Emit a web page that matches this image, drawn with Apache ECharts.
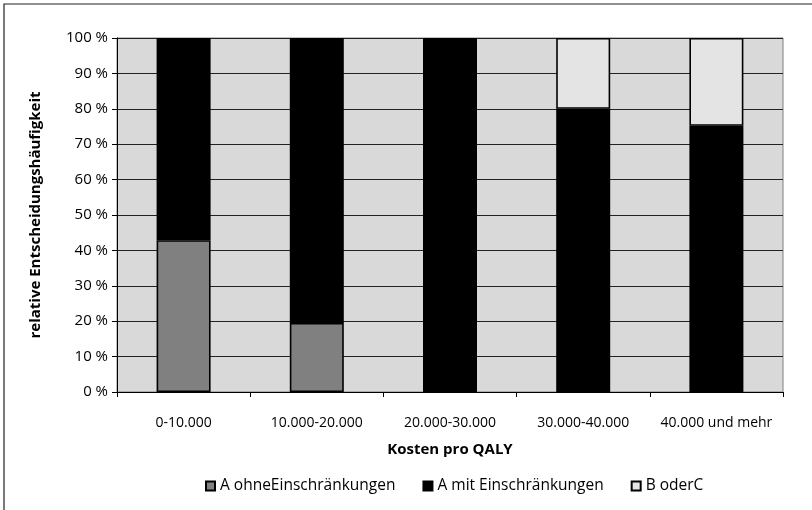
<!DOCTYPE html>
<html>
<head>
<meta charset="utf-8">
<script src="https://cdn.jsdelivr.net/npm/echarts@6/dist/echarts.min.js"></script>
<style>
  html, body { margin: 0; padding: 0; background: #fff; }
  #chart { width: 812px; height: 510px; }
</style>
</head>
<body>
<div id="chart"></div>
<script>
// Kosten pro QALY -> relative Entscheidungshäufigkeit (%)
var categories = ['0-10.000', '10.000-20.000', '20.000-30.000', '30.000-40.000', '40.000 und mehr'];
var seriesNames = ['A ohneEinschränkungen', 'A mit Einschränkungen', 'B oderC'];
var ohneValues = [42.9, 19.5, null, null, null];
var mitValues = [57.1, 80.5, 100, 80, 75.2];
var bcValues = [null, null, null, 20, 24.8];
var yTicks = [0, 10, 20, 30, 40, 50, 60, 70, 80, 90, 100];

var FONT = 'Open Sans';
var chart = echarts.init(document.getElementById('chart'));

function barSeries(name, data, color) {
    return {
        name: name,
        type: 'bar',
        stack: 'total',
        data: data,
        barWidth: 54,
        itemStyle: { color: color, borderColor: '#000', borderWidth: 1.6 },
        emphasis: { disabled: true }
    };
}

chart.setOption({
    backgroundColor: '#fff',
    animation: false,
    textStyle: { fontFamily: FONT },
    graphic: [{
        type: 'rect',
        shape: { x: 4, y: 4, width: 1000, height: 1000 },
        style: { fill: 'none', stroke: '#222', lineWidth: 1.2 },
        silent: true
    }],
    grid: {
        left: 117, top: 38, width: 666, height: 354,
        show: true, backgroundColor: '#d9d9d9', borderColor: '#808080', borderWidth: 1
    },
    legend: {
        left: 200, top: 473,
        icon: 'rect', itemWidth: 9, itemHeight: 9, itemGap: 27,
        textStyle: { fontFamily: FONT, fontSize: 15.5, color: '#000' },
        data: seriesNames
    },
    xAxis: {
        type: 'category',
        data: categories,
        name: 'Kosten pro QALY',
        nameLocation: 'middle',
        nameGap: 50,
        nameTextStyle: { fontFamily: FONT, fontSize: 15, fontWeight: 'bold', color: '#000' },
        axisLine: { lineStyle: { color: '#000', width: 1 } },
        axisTick: { show: true, length: 5, alignWithLabel: false, lineStyle: { color: '#000' } },
        axisLabel: { margin: 24, fontFamily: FONT, fontSize: 14, color: '#000', interval: 0 },
        splitLine: { show: false }
    },
    yAxis: {
        type: 'value',
        min: yTicks[0], max: yTicks[yTicks.length - 1], interval: 10,
        name: 'relative Entscheidungshäufigkeit',
        nameLocation: 'middle',
        nameGap: 74,
        nameRotate: 90,
        nameTextStyle: { fontFamily: FONT, fontSize: 15, fontWeight: 'bold', color: '#000' },
        axisLine: { show: true, lineStyle: { color: '#000', width: 1 } },
        axisTick: { show: true, length: 5, lineStyle: { color: '#000' } },
        axisLabel: { margin: 9, fontFamily: FONT, fontSize: 15, color: '#000', formatter: '{value} %' },
        splitLine: { show: true, lineStyle: { color: '#222', width: 1 } }
    },
    series: [
        barSeries(seriesNames[0], ohneValues, '#808080'),
        barSeries(seriesNames[1], mitValues, '#000000'),
        barSeries(seriesNames[2], bcValues, '#e4e4e4')
    ]
});
</script>
</body>
</html>
